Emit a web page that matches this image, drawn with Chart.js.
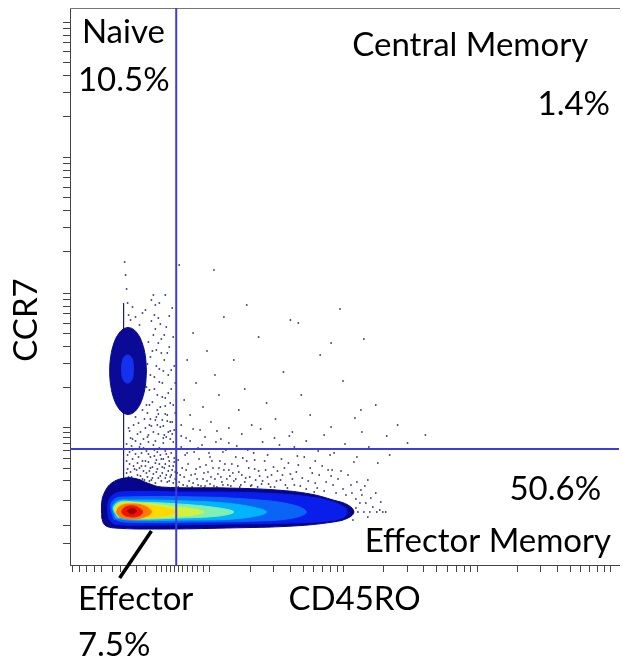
<!DOCTYPE html>
<html>
<head>
<meta charset="utf-8">
<script src="https://cdn.jsdelivr.net/npm/chart.js@4.4.1/dist/chart.umd.min.js"></script>
<style>
  html, body { margin: 0; padding: 0; background: #fff; }
  canvas { display: block; }
</style>
</head>
<body>
<canvas id="chart" width="623" height="662"></canvas>
<script>
// both axes are in display channels (CD45RO 0-553, CCR7 0-557)
const xTicks = [3, 10, 17, 25, 32, 43, 51, 67, 76, 87, 92, 97, 101, 105, 109, 113, 118, 123, 128, 134, 141,
  181.5, 205.2, 222, 235, 245.7, 254.7, 262.5, 269.3, 275.5,
  316, 339.7, 356.5, 369.5, 380.2, 389.2, 397, 403.8, 410,
  450.5, 474.2, 491, 504, 514.7, 523.7, 531.5, 538.3, 544.5];
const yTicks = [22, 40, 65, 85, 97, 107, 115, 122, 128, 133, 138,
  177.6, 201.4, 218.3, 231.4, 242, 251.1, 258.9, 265.8, 272,
  313.6, 337.4, 354.3, 367.4, 378, 387.1, 394.9, 401.8, 408,
  448.6, 472.4, 489.3, 502.4, 513, 522.1, 529.9, 536.8, 543];

// quadrant gates
const gateCD45RO = 107;
const gateCCR7 = 116;

// effector memory population, contours from outer to inner
const effNavy = [[32,47],[32,63],[35,73],[42,82],[55,87],[68,86],[78,82],[92,78],[158,77],[208,75],[242,71],[265,65],[280,60],[286,53],[280,47],[265,43],[225,39],[158,37],[92,36],[45,37],[35,40],[32,47]];
const effBlue = [[39,46],[38,60],[42,69],[52,73],[110,73],[192,72],[242,68],[265,63],[277,57],[279,53],[276,48],[260,44],[220,42],[160,41],[80,40],[45,41],[39,46]];
const effMidBlue = [[44,46],[41,59],[45,66],[55,68],[130,68],[190,65],[225,60],[238,53],[225,47],[190,44],[130,43],[55,43],[44,46]];
const effCyan = [[46,47],[43,58],[48,64],[60,65],[120,64],[165,61],[192,56],[198,53],[192,50],[165,46],[120,45],[60,45],[46,47]];
const effAqua = [[48,48],[44,57],[50,63],[65,63],[110,61],[150,57],[165,53],[150,49],[110,47],[65,46],[48,48]];
const effLime = [[49,49],[45,56],[51,62],[70,62],[100,59],[125,56],[135,53],[125,50],[100,48],[70,47],[49,49]];
const effYellow = [[50,49],[46,55],[52,61],[70,61],[95,57],[106,53],[95,49],[70,47],[50,49]];
const effOrange = [[50,48],[47,53],[51,59],[62,61],[75,59],[82,53],[75,48],[62,46],[50,48]];
const effRed = [[56,49],[52,53],[56,58],[64,59],[71,56],[73,53],[71,50],[64,48],[56,49]];
const effPeak = [[61,51],[58,54],[61,56],[65,56],[67,54],[65,52],[61,51]];

// naive population
const naiveOuter = [[77,194],[75.9,208.9],[72.7,222],[67.8,231.7],[61.7,236.8],[55.3,236.8],[49.3,231.7],[44.3,222],[41.1,208.9],[40,194],[41.1,179.1],[44.3,166],[49.3,156.3],[55.3,151.2],[61.7,151.2],[67.8,156.3],[72.7,166],[75.9,179.1],[77,194]];
const naiveInner = [[64,196],[63,205],[60,209.5],[56,209.5],[53,205],[52,196],[53,187],[56,182.5],[60,182.5],[63,187],[64,196]];

// events piled up on the lowest CD45RO channel
const pileUp = [[54,262],[54,80]];

// single events drawn as dots
const eventsAboveEffector = [[57,92],[60,101],[62,88],[63,115],[65,96],[66,124],[68,90],[69,108],[71,133],[72,99],[73,86],[74,117],[76,104],[77,92],[78,128],[79,111],[81,97],[82,139],[83,87],[84,120],[86,102],[87,93],[88,113],[89,131],[91,89],[92,106],[93,98],[94,122],[96,87],[97,111],[98,144],[99,94],[100,104],[101,126],[102,90],[103,116],[104,99],[105,135],[106,86],[58,110],[61,127],[64,140],[67,84],[70,118],[75,146],[80,84],[85,109],[90,117],[95,130],[100,84],[59,137],[74,126],[87,148],[96,101],[105,107],
  [56,84],[57,104],[58,96],[59,88],[60,113],[61,93],[62,81],[63,106],[64,99],[65,86],[66,111],[67,95],[68,102],[69,83],[70,97],[71,89],[72,112],[73,104],[74,94],[75,85],[76,99],[77,114],[78,88],[79,103],[80,94],[81,108],[82,85],[83,98],[84,91],[85,115],[86,82],[87,105],[88,96],[89,87],[90,101],[91,110],[92,84],[93,92],[94,106],[95,97],[96,114],[97,90],[98,83],[99,108],[100,99],[101,88],[102,112],[103,95],[104,82],[105,103],[106,93],[107,115],
  [57,121],[60,134],[63,126],[66,148],[68,131],[71,121],[73,155],[76,137],[79,123],[81,146],[84,133],[86,124],[89,151],[91,138],[94,127],[96,159],[99,133],[101,143],[104,123],[106,152],[62,119],[69,142],[77,160],[93,145],[103,131]];
const eventsBesideNaive = [[78,152],[80,175],[81,208],[83,163],[84,230],[85,188],[86,145],[87,215],[88,170],[89,247],[90,196],[91,158],[92,226],[93,182],[94,139],[95,205],[96,167],[97,238],[98,150],[99,190],[100,218],[101,134],[102,176],[103,257],[104,160],[105,199],[79,130],[82,244],[86,260],[92,212],[97,128],[88,140],[76,255],[84,270],[55,303],[56,290],[57,276],[58,262],[59,250],[61,245],[63,258],[66,248],[70,240],[73,252],
  [77,178],[78,201],[79,223],[80,160],[81,190],[82,265],[83,214],[85,176],[86,236],[87,199],[88,155],[89,222],[90,183],[91,241],[93,168],[94,194],[95,230],[96,151],[98,212],[99,172],[100,249],[102,195],[103,143],[104,228],[106,182],[90,262],[96,270],[101,162],[85,250],[80,140]];
const eventsMemory = [[108,92],[109,105],[110,83],[112,118],[113,97],[115,88],[116,110],[118,79],[119,101],[121,124],[122,90],[124,82],[125,113],[127,96],[128,86],[130,106],[132,79],[133,120],[135,92],[137,100],[138,84],[140,112],[142,88],[144,97],[145,79],[147,123],[149,91],[151,104],[153,83],[155,95],[157,115],[159,80],[161,89],[163,101],[165,84],[168,119],[170,93],[172,80],[174,107],[177,87],[180,97],[182,79],[185,112],[187,85],[190,94],[193,81],[196,104],[199,88],[202,78],[205,98],[208,84],[211,120],[214,90],[217,80],[220,102],[224,86],[228,93],[232,79],[236,108],[240,84],[244,92],[249,77],[254,99],[258,83],[263,89],[268,72],[273,94],[278,70],[283,80],[288,66],[293,75],[298,62],[305,58],[312,55],[318,53],[300,85],[286,103],[262,110],[226,118],[194,123],[152,126],[117,127],[135,77],[166,76],[187,75],[246,73],[290,53],[296,53],[302,53],[309,53],[315,53],[285,45],[292,62],[300,48],[288,57],
  [109,78],[111,90],[114,80],[117,95],[120,84],[123,78],[126,91],[129,80],[131,98],[134,86],[136,79],[139,93],[141,81],[143,104],[146,86],[148,78],[150,97],[152,88],[154,80],[156,101],[158,86],[160,95],[162,79],[164,92],[167,86],[169,99],[171,78],[173,90],[176,83],[178,104],[181,88],[183,80],[186,96],[189,78],[191,89],[194,84],[197,95],[200,81],[203,90],[206,78],[209,94],[212,85],[216,97],[219,77],[222,91],[226,80],[230,100],[234,87],[238,76],[242,97],[247,82],[251,90],[256,74],[260,95],[265,80],[270,86],[275,76],[280,90],[284,72],[289,83],[294,70],[297,79],[303,67],[308,72],[313,63]];
const eventsCentral = [[112,140],[115,165],[118,205],[121,150],[124,232],[127,182],[131,135],[134,158],[138,214],[142,143],[146,190],[150,170],[155,248],[160,137],[165,205],[170,155],[176,176],[183,140],[190,228],[198,162],[207,146],[215,193],[224,133],[233,170],[242,150],[252,210],[263,138],[275,184],[287,147],[296,226],[308,160],[319,129],[330,140],[272,256],[110,300],[145,295],[178,260],[222,245],[230,242],[263,222],[293,155],[294,133],[340,122],[358,130],
  [112,129],[118,112],[124,136],[129,117],[136,128],[141,108],[148,134],[154,113],[160,122],[167,108],[173,131],[179,115],[186,105],[192,136],[199,110],[206,127],[213,106],[221,129],[229,109],[238,124],[247,104],[256,130],[266,112],[277,121],[289,108],[301,118],[310,102],[322,110],[264,95],[250,114]];

const toPoints = (pairs) => pairs.map(([x, y]) => ({ x, y }));

const contour = (pairs, color, order) => ({
  type: "line",
  data: toPoints(pairs),
  fill: "shape",
  backgroundColor: color,
  borderColor: color,
  borderWidth: 1,
  pointRadius: 0,
  tension: 0.4,
  order: order,
});

const plainLine = (pairs, color, width, order, clip) => ({
  type: "line",
  data: toPoints(pairs),
  borderColor: color,
  borderWidth: width,
  pointRadius: 0,
  fill: false,
  order: order,
  clip: clip,
});

const dots = {
  type: "scatter",
  data: toPoints([...eventsAboveEffector, ...eventsBesideNaive, ...eventsMemory, ...eventsCentral]),
  backgroundColor: "#1e1e78",
  borderWidth: 0,
  pointStyle: "rect",
  pointRadius: 1.1,
  order: 30,
};

// text, placed in channel units
const labels = [
  { text: "Naive", x: 12, y: 522, align: "left" },
  { text: "10.5%", x: 8, y: 474, align: "left" },
  { text: "Central Memory", x: 522, y: 509, align: "right" },
  { text: "1.4%", x: 544, y: 450, align: "right" },
  { text: "50.6%", x: 535, y: 65, align: "right" },
  { text: "Effector Memory", x: 545, y: 13, align: "right" },
  { text: "Effector", x: 8, y: -45, align: "left" },
  { text: "7.5%", x: 8, y: -91, align: "left" },
  { text: "CD45RO", x: 220, y: -45, align: "left" },
  { text: "CCR7", x: -33, y: 245, align: "center", rotate: true },
];

const labelPlugin = {
  id: "labels",
  afterDraw(chart) {
    const { ctx } = chart;
    const xs = chart.scales.x;
    const ys = chart.scales.y;
    ctx.save();
    ctx.fillStyle = "#000";
    ctx.font = "33px Lato";
    ctx.textBaseline = "alphabetic";
    labels.forEach((l) => {
      ctx.save();
      ctx.translate(xs.getPixelForValue(l.x), ys.getPixelForValue(l.y));
      if (l.rotate) ctx.rotate(-Math.PI / 2);
      ctx.textAlign = l.align;
      ctx.fillText(l.text, 0, 0);
      ctx.restore();
    });
    ctx.restore();
  },
};

const tickAxis = (ticks, position, size) => ({
  type: "linear",
  position: position,
  min: 0,
  max: position === "left" ? 557 : 553,
  afterBuildTicks: (s) => {
    s.ticks = ticks.map((v) => ({ value: v }));
  },
  afterFit: (s) => {
    if (position === "left") s.width = size;
    else s.height = size;
  },
  grid: { drawOnChartArea: false, drawTicks: true, tickLength: 7, color: "#444", lineWidth: 1 },
  border: { display: true, color: "#444", width: 1 },
  ticks: { display: false, autoSkip: false },
});

const config = {
  type: "scatter",
  data: {
    datasets: [
      plainLine([[gateCD45RO, 0], [gateCD45RO, 557]], "#3c3cdc", 2, 0, true),
      plainLine([[0, gateCCR7], [553, gateCCR7]], "#3c3cdc", 2, 0, true),
      plainLine([[82, 34], [50, -13]], "#000", 3.5, 0, false),
      contour(effPeak, "#a00000", 1),
      contour(effRed, "#f01400", 2),
      contour(effOrange, "#ff7a00", 3),
      contour(effYellow, "#ffd800", 4),
      contour(effLime, "#d4f23c", 5),
      contour(effAqua, "#80f0b0", 6),
      contour(effCyan, "#00b4ff", 7),
      contour(effMidBlue, "#0a64f5", 8),
      contour(effBlue, "#0a1eeb", 9),
      contour(effNavy, "#06068c", 10),
      contour(naiveInner, "#1432ee", 11),
      contour(naiveOuter, "#0a0a96", 12),
      plainLine(pileUp, "#1a1a80", 1.2, 20, true),
      dots,
    ],
  },
  options: {
    responsive: false,
    animation: false,
    devicePixelRatio: 1,
    layout: { padding: { left: 62, top: 8, right: 0, bottom: 89 } },
    plugins: { legend: { display: false }, tooltip: { enabled: false } },
    scales: {
      x: tickAxis(xTicks, "bottom", 8),
      y: tickAxis(yTicks, "left", 8),
      xTop: {
        type: "linear",
        position: "top",
        min: 0,
        max: 553,
        afterBuildTicks: (s) => { s.ticks = []; },
        afterFit: (s) => { s.height = 0; },
        grid: { drawOnChartArea: false, drawTicks: false },
        border: { display: true, color: "#777", width: 1 },
        ticks: { display: false },
      },
    },
  },
  plugins: [labelPlugin],
};

new Chart(document.getElementById("chart"), config);
</script>
</body>
</html>
